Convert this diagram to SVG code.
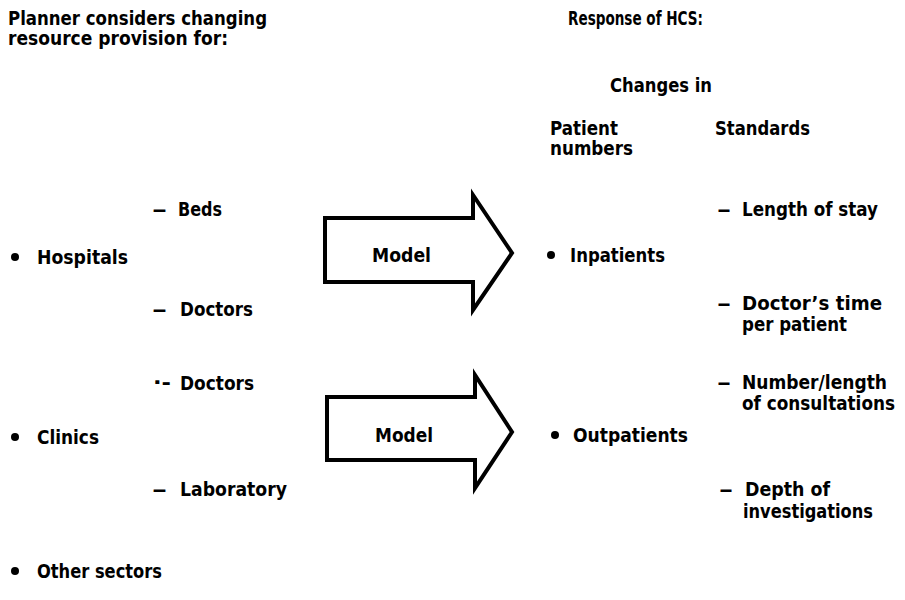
<svg xmlns="http://www.w3.org/2000/svg" width="905" height="600" viewBox="0 0 905 600">
<style>
text{font-family:"DejaVu Sans Condensed","Liberation Sans Narrow","Liberation Sans",sans-serif;font-weight:bold;font-size:20px;fill:#000}
.arrow{fill:#fff;stroke:#000;stroke-width:4;stroke-linejoin:miter}
.dot{fill:#000}
</style>
<rect width="905" height="600" fill="#fff"/>
<g id="heading-left"><text x="8" y="25" textLength="259" lengthAdjust="spacingAndGlyphs">Planner considers changing</text><text x="8" y="45" textLength="220" lengthAdjust="spacingAndGlyphs">resource provision for:</text></g>
<g id="heading-right"><text x="568" y="25" textLength="135" lengthAdjust="spacingAndGlyphs">Response of HCS:</text><text x="610" y="92" textLength="102" lengthAdjust="spacingAndGlyphs">Changes in</text><text x="550" y="135" textLength="68" lengthAdjust="spacingAndGlyphs">Patient</text><text x="550" y="155" textLength="83" lengthAdjust="spacingAndGlyphs">numbers</text><text x="715" y="135" textLength="95" lengthAdjust="spacingAndGlyphs">Standards</text></g>
<g id="connectors">
<polygon class="arrow" points="325,218 473,218 473,195 512,253 473,310 473,282 325,282"/>
<polygon class="arrow" points="327,397 475,397 475,375 512,432 475,488 475,460 327,460"/>
</g>
<g id="model1"><text x="372" y="262" textLength="59" lengthAdjust="spacingAndGlyphs">Model</text></g>
<g id="model2"><text x="375" y="442" textLength="58" lengthAdjust="spacingAndGlyphs">Model</text></g>
<g id="hospitals"><circle class="dot" cx="15" cy="257" r="4"/><text x="37" y="264" textLength="91" lengthAdjust="spacingAndGlyphs">Hospitals</text></g>
<g id="beds"><text x="152" y="216" textLength="15" lengthAdjust="spacingAndGlyphs">–</text><text x="178" y="216" textLength="44" lengthAdjust="spacingAndGlyphs">Beds</text></g>
<g id="doctors1"><text x="152" y="316" textLength="15" lengthAdjust="spacingAndGlyphs">–</text><text x="180" y="316" textLength="73" lengthAdjust="spacingAndGlyphs">Doctors</text></g>
<g id="doctors2"><text x="153" y="389" font-size="13" textLength="18" lengthAdjust="spacingAndGlyphs">·-</text><text x="180" y="390" textLength="74" lengthAdjust="spacingAndGlyphs">Doctors</text></g>
<g id="clinics"><circle class="dot" cx="15" cy="437" r="4"/><text x="37" y="444" textLength="62" lengthAdjust="spacingAndGlyphs">Clinics</text></g>
<g id="laboratory"><text x="152" y="496" textLength="15" lengthAdjust="spacingAndGlyphs">–</text><text x="180" y="496" textLength="107" lengthAdjust="spacingAndGlyphs">Laboratory</text></g>
<g id="other"><circle class="dot" cx="15" cy="571" r="4"/><text x="37" y="578" textLength="125" lengthAdjust="spacingAndGlyphs">Other sectors</text></g>
<g id="inpatients"><circle class="dot" cx="551" cy="255" r="4"/><text x="570" y="262" textLength="95" lengthAdjust="spacingAndGlyphs">Inpatients</text></g>
<g id="outpatients"><circle class="dot" cx="555" cy="435" r="4"/><text x="573" y="442" textLength="115" lengthAdjust="spacingAndGlyphs">Outpatients</text></g>
<g id="los"><text x="717" y="216" textLength="14" lengthAdjust="spacingAndGlyphs">–</text><text x="742" y="216" textLength="136" lengthAdjust="spacingAndGlyphs">Length of stay</text></g>
<g id="doctime"><text x="717" y="310" textLength="14" lengthAdjust="spacingAndGlyphs">–</text><text x="742" y="310" textLength="140" lengthAdjust="spacingAndGlyphs">Doctor’s time</text><text x="742" y="331" textLength="105" lengthAdjust="spacingAndGlyphs">per patient</text></g>
<g id="consult"><text x="717" y="389" textLength="14" lengthAdjust="spacingAndGlyphs">–</text><text x="742" y="389" textLength="145" lengthAdjust="spacingAndGlyphs">Number/length</text><text x="742" y="410" textLength="153" lengthAdjust="spacingAndGlyphs">of consultations</text></g>
<g id="depth"><text x="719" y="496" textLength="14" lengthAdjust="spacingAndGlyphs">–</text><text x="745" y="496" textLength="85" lengthAdjust="spacingAndGlyphs">Depth of</text><text x="743" y="518" textLength="130" lengthAdjust="spacingAndGlyphs">investigations</text></g>
</svg>
